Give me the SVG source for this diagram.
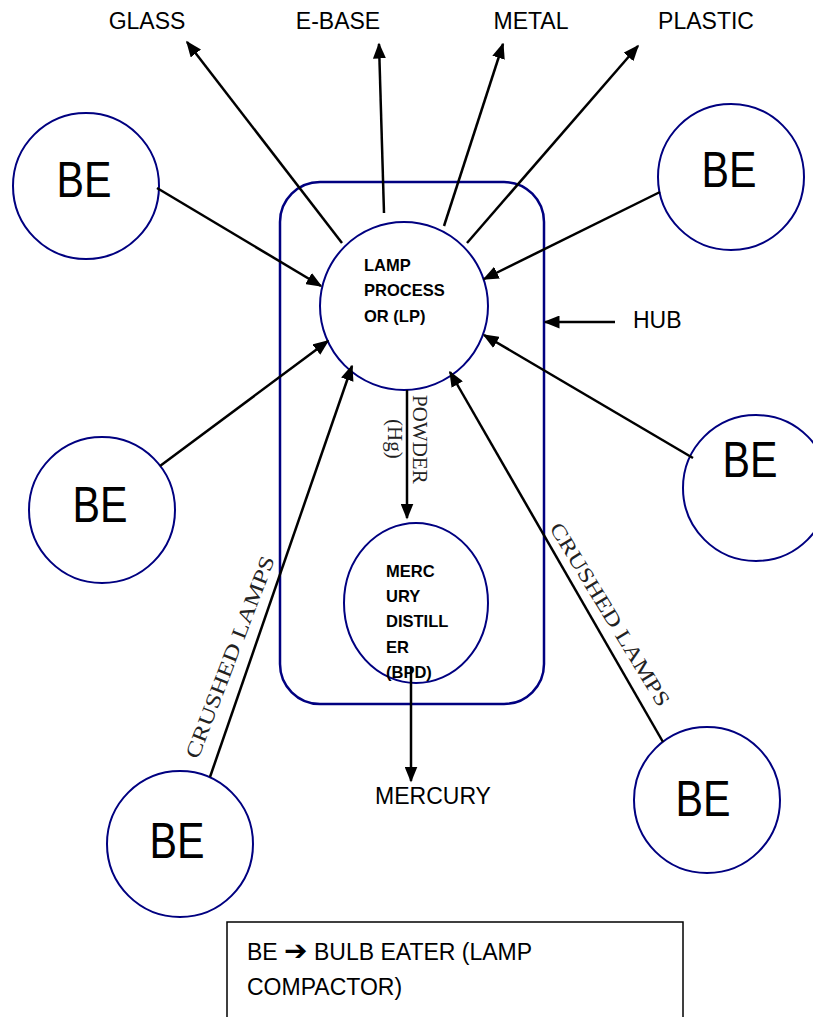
<svg xmlns="http://www.w3.org/2000/svg" width="813" height="1017" viewBox="0 0 813 1017">
<style>
.node{fill:#fff;stroke:#000080;stroke-width:2}
.hub{fill:none;stroke:#000080;stroke-width:2.5}
.be{font-family:"Liberation Sans",Arial,sans-serif;font-size:50px;fill:#000;text-anchor:middle}
.lbl{font-family:"Liberation Sans",Arial,sans-serif;font-size:23px;fill:#000}
.bold{font-family:"Liberation Sans",Arial,sans-serif;font-size:16.5px;font-weight:bold;fill:#000}
.serif{font-family:"Liberation Serif","Times New Roman",serif;font-size:21px;fill:#222}
.conn line{stroke:#000;stroke-width:2.5;marker-end:url(#ah)}
</style>
<defs>
<marker id="ah" viewBox="0 0 16 13" markerWidth="16" markerHeight="13" refX="14.5" refY="6.5" orient="auto" markerUnits="userSpaceOnUse">
<path d="M0,0 L16,6.5 L0,13 z" fill="#000"/>
</marker>
</defs>
<rect width="813" height="1017" fill="#fff"/>

<g id="hub">
<rect class="hub" x="280" y="182" width="264" height="522" rx="40" ry="40"/>
</g>

<g id="lp">
<circle class="node" cx="404" cy="306" r="84"/>
<text class="bold" x="364" y="271">LAMP</text>
<text class="bold" x="364" y="296">PROCESS</text>
<text class="bold" x="364" y="322">OR (LP)</text>
</g>

<g id="md">
<ellipse class="node" cx="416" cy="603" rx="72" ry="80"/>
<text class="bold" x="386" y="577">MERC</text>
<text class="bold" x="386" y="602">URY</text>
<text class="bold" x="386" y="627">DISTILL</text>
<text class="bold" x="386" y="653">ER</text>
<text class="bold" x="386" y="678">(BPD)</text>
</g>

<g id="be1"><circle class="node" cx="86" cy="186" r="73"/><text class="be" x="84" y="197" textLength="55" lengthAdjust="spacingAndGlyphs">BE</text></g>
<g id="be2"><circle class="node" cx="731" cy="177" r="73"/><text class="be" x="729" y="187" textLength="55" lengthAdjust="spacingAndGlyphs">BE</text></g>
<g id="be3"><circle class="node" cx="102" cy="510" r="73"/><text class="be" x="100" y="522" textLength="55" lengthAdjust="spacingAndGlyphs">BE</text></g>
<g id="be4"><circle class="node" cx="756" cy="488" r="73"/><text class="be" x="750" y="477" textLength="55" lengthAdjust="spacingAndGlyphs">BE</text></g>
<g id="be5"><circle class="node" cx="180" cy="844" r="73"/><text class="be" x="177" y="858" textLength="55" lengthAdjust="spacingAndGlyphs">BE</text></g>
<g id="be6"><circle class="node" cx="707" cy="800" r="73"/><text class="be" x="703" y="816" textLength="55" lengthAdjust="spacingAndGlyphs">BE</text></g>

<g id="outputs">
<text class="lbl" x="147" y="29" text-anchor="middle">GLASS</text>
<text class="lbl" x="338" y="29" text-anchor="middle">E-BASE</text>
<text class="lbl" x="531" y="29" text-anchor="middle">METAL</text>
<text class="lbl" x="706" y="29" text-anchor="middle">PLASTIC</text>
<text class="lbl" x="433" y="804" text-anchor="middle">MERCURY</text>
<text class="lbl" x="633" y="328">HUB</text>
</g>

<g id="connectors" class="conn">
<line x1="157" y1="188" x2="321" y2="286"/>
<line x1="660" y1="192" x2="484" y2="279"/>
<line x1="160" y1="466" x2="328" y2="341"/>
<line x1="693" y1="458" x2="484" y2="335"/>
<line x1="210" y1="777" x2="352" y2="366"/>
<line x1="663" y1="742" x2="450" y2="372"/>
<line x1="342" y1="243" x2="187" y2="42"/>
<line x1="384" y1="213" x2="379" y2="44"/>
<line x1="444" y1="226" x2="503" y2="44"/>
<line x1="467" y1="243" x2="638" y2="46"/>
<line x1="407" y1="390" x2="407" y2="518"/>
<line x1="411" y1="668" x2="411" y2="781"/>
<line x1="615" y1="322" x2="545" y2="322"/>
</g>

<g id="edge-labels">
<text class="serif" transform="translate(413,395) rotate(90)">POWDER</text>
<text class="serif" transform="translate(388,419) rotate(90)">(Hg)</text>
<text class="serif" font-size="23" transform="translate(198,760) rotate(-69)" textLength="215" lengthAdjust="spacingAndGlyphs">CRUSHED LAMPS</text>
<text class="serif" font-size="23" transform="translate(549,528) rotate(58.6)" textLength="211" lengthAdjust="spacingAndGlyphs">CRUSHED LAMPS</text>
</g>

<g id="legend">
<rect x="227" y="922" width="456" height="110" fill="#fff" stroke="#000" stroke-width="1.5"/>
<text class="lbl" font-size="24" x="247" y="960">BE <tspan font-family="'DejaVu Sans',sans-serif" font-weight="bold" font-size="28">➔</tspan> BULB EATER (LAMP</text>
<text class="lbl" font-size="24" x="247" y="995">COMPACTOR)</text>
</g>
</svg>
